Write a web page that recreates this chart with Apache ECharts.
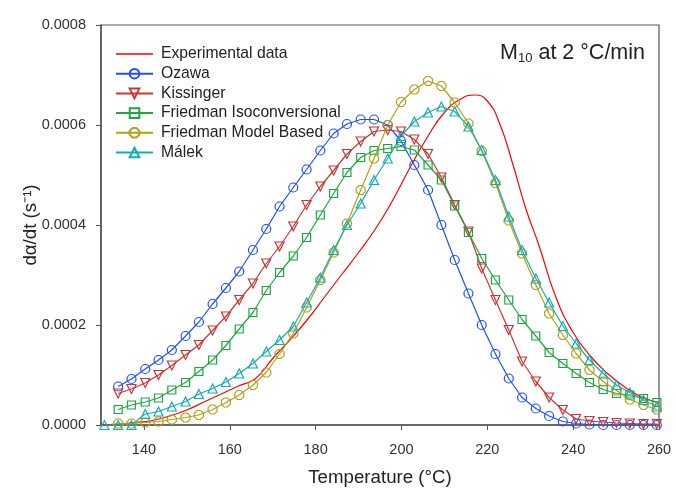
<!DOCTYPE html>
<html>
<head>
<meta charset="utf-8">
<script src="https://cdn.jsdelivr.net/npm/echarts@6/dist/echarts.min.js"></script>
<style>
html,body{margin:0;padding:0;background:#fff;}
#chart{width:676px;height:494px;}
</style>
</head>
<body>
<div id="chart"></div>
<script>
// Temperatures of the model markers (°C)
const temps = [130.8, 134.0, 137.1, 140.3, 143.4, 146.5, 149.7, 152.8, 156.0, 159.1, 162.2, 165.4, 168.5, 171.6, 174.8, 177.9, 181.1, 184.2, 187.3, 190.5, 193.6, 196.8, 199.9, 203.0, 206.2, 209.3, 212.4, 215.6, 218.7, 221.9, 225.0, 228.1, 231.3, 234.4, 237.6, 240.7, 243.8, 247.0, 250.1, 253.2, 256.4, 259.5];

const ozawa = [null, 0.000077, 0.000092, 0.000112, 0.000130, 0.000150, 0.000178, 0.000206, 0.000242, 0.000274, 0.000307, 0.000350, 0.000392, 0.000437, 0.000475, 0.000511, 0.000549, 0.000583, 0.000602, 0.000611, 0.000611, 0.000600, 0.000568, 0.000520, 0.000470, 0.000400, 0.000330, 0.000263, 0.000200, 0.000142, 0.000093, 0.000055, 0.000033, 0.000018, 0.000007, 0.000003, 0.000001, 0, 0, 0, 0, 0];

const kissinger = [null, 0.000063, 0.000072, 0.000084, 0.000100, 0.000119, 0.000140, 0.000160, 0.000189, 0.000217, 0.000250, 0.000283, 0.000323, 0.000357, 0.000397, 0.000440, 0.000477, 0.000509, 0.000542, 0.000567, 0.000587, 0.000590, 0.000587, 0.000571, 0.000542, 0.000495, 0.000440, 0.000387, 0.000313, 0.000250, 0.000190, 0.000127, 0.000087, 0.000055, 0.000030, 0.000012, 0.000008, 0.000006, 0.000004, 0.000003, 0.000002, 0.000002];

const friedmanIso = [null, 0.000031, 0.000040, 0.000046, 0.000054, 0.000070, 0.000085, 0.000107, 0.000130, 0.000159, 0.000192, 0.000225, 0.000269, 0.000305, 0.000338, 0.000375, 0.000420, 0.000463, 0.000505, 0.000535, 0.000549, 0.000553, 0.000557, 0.000550, 0.000520, 0.000490, 0.000438, 0.000385, 0.000333, 0.000290, 0.000250, 0.000211, 0.000178, 0.000145, 0.000123, 0.000103, 0.000085, 0.000071, 0.000063, 0.000060, 0.000053, 0.000045];

const friedmanModel = [null, 0.000003, 0.000003, 0.000005, 0.000007, 0.000011, 0.000015, 0.000020, 0.000031, 0.000045, 0.000060, 0.000080, 0.000105, 0.000142, 0.000183, 0.000235, 0.000290, 0.000345, 0.000403, 0.000470, 0.000533, 0.000600, 0.000646, 0.000671, 0.000688, 0.000678, 0.000645, 0.000603, 0.000548, 0.000484, 0.000409, 0.000343, 0.000280, 0.000223, 0.000180, 0.000143, 0.000110, 0.000087, 0.000069, 0.000051, 0.000040, 0.000031];

const malek = [0, 0, 0, 0.000022, 0.000027, 0.000037, 0.000047, 0.000062, 0.000073, 0.000086, 0.000103, 0.000123, 0.000147, 0.000170, 0.000197, 0.000245, 0.000295, 0.000350, 0.000400, 0.000443, 0.000490, 0.000533, 0.000578, 0.000607, 0.000625, 0.000637, 0.000627, 0.000597, 0.000550, 0.000490, 0.000417, 0.000350, 0.000293, 0.000245, 0.000198, 0.000163, 0.000130, 0.000103, 0.000080, 0.000065, 0.000050, 0.000037];

// Experimental curve
const expT = [130, 134, 138, 142, 146, 150, 154, 158, 162, 166, 170, 174, 178, 182, 186, 190, 194, 198, 202, 206, 210, 214, 217, 220, 223, 226, 229, 232, 236, 240, 244, 248, 252, 256, 260];
const expV = [0, 0.000002, 0.000005, 0.000009, 0.000018, 0.000030, 0.000046, 0.000062, 0.000078, 0.000093, 0.000133, 0.000170, 0.000210, 0.000255, 0.000300, 0.000345, 0.000393, 0.000450, 0.000515, 0.000575, 0.000625, 0.000653, 0.000660, 0.000648, 0.000600, 0.000520, 0.000432, 0.000360, 0.000255, 0.000185, 0.000138, 0.000103, 0.000076, 0.000056, 0.000045];

const xTicks = [140, 160, 180, 200, 220, 240, 260];
const seriesNames = ['Experimental data', 'Ozawa', 'Kissinger', 'Friedman Isoconversional', 'Friedman Model Based', 'Málek'];

function pairs(xs, ys) {
  const out = [];
  for (let i = 0; i < xs.length; i++) if (ys[i] !== null) out.push([xs[i], ys[i]]);
  return out;
}

const FONT = "'Liberation Sans', Arial, sans-serif";
const octagon = 'path://M3,0 L7,0 L10,3 L10,7 L7,10 L3,10 L0,7 L0,3 Z';
const lineIcon = 'path://M0,0 L38,0 L38,1.3 L0,1.3 Z';

function markerSeries(name, ys, color, symbol, size, rotate) {
  return {
    name: name, type: 'line', data: pairs(temps, ys),
    symbol: symbol, symbolSize: size, symbolRotate: rotate || 0,
    lineStyle: {color: color, width: 1.2},
    itemStyle: {color: 'rgba(255,255,255,0)', borderColor: color, borderWidth: 1.2},
    emphasis: {disabled: true}, animation: false
  };
}

const chart = echarts.init(document.getElementById('chart'));
chart.setOption({
  animation: false,
  backgroundColor: '#fff',
  title: {
    text: 'M{s|10} at 2 °C/min',
    right: 26, top: 36,
    textStyle: {
      fontFamily: FONT, fontSize: 21.5, fontWeight: 'normal', color: '#222',
      rich: {s: {fontFamily: FONT, fontSize: 13, color: '#222', padding: [11, 0, 0, 0]}}
    }
  },
  legend: {
    orient: 'vertical', left: 110, top: 41,
    itemWidth: 37, itemHeight: 12, itemGap: 3.7,
    data: [{name: seriesNames[0], icon: lineIcon}].concat(seriesNames.slice(1)),
    textStyle: {fontFamily: FONT, fontSize: 15.7, color: '#222', padding: [0, 0, 0, 3]}
  },
  grid: {left: 101, right: 17, top: 25, bottom: 69, show: true, borderColor: '#555', borderWidth: 1.2},
  xAxis: {
    type: 'value', min: 130, max: 260,
    name: 'Temperature (°C)', nameLocation: 'middle', nameGap: 43,
    nameTextStyle: {fontFamily: FONT, fontSize: 18.7, color: '#222'},
    axisLine: {show: true, lineStyle: {color: '#555', width: 1.5}},
    axisTick: {show: true, inside: false, length: 5, customValues: xTicks, lineStyle: {color: '#555'}},
    axisLabel: {customValues: xTicks, fontFamily: FONT, fontSize: 14.5, color: '#333', margin: 17},
    splitLine: {show: false}
  },
  yAxis: {
    type: 'value', min: 0, max: 0.0008, interval: 0.0002,
    name: 'dα/dt (s⁻¹)', nameLocation: 'middle', nameGap: 61, nameMoveOverlap: false,
    nameTextStyle: {fontFamily: FONT, fontSize: 18.7, color: '#222'},
    axisLine: {show: true, lineStyle: {color: '#555', width: 1.5}},
    axisTick: {show: true, inside: false, length: 5, lineStyle: {color: '#555'}},
    axisLabel: {fontFamily: FONT, fontSize: 14.5, color: '#333', margin: 15, formatter: v => v.toFixed(4)},
    splitLine: {show: false}
  },
  series: [
    {name: 'Experimental data', type: 'line', data: pairs(expT, expV), smooth: true, symbol: 'none',
     lineStyle: {color: '#ff0000', width: 1.2}, itemStyle: {color: '#ff0000'}, z: 3},
    markerSeries('Ozawa', ozawa, '#1f4fff', 'circle', 9),
    markerSeries('Kissinger', kissinger, '#c83737', 'triangle', 9, 180),
    markerSeries('Friedman Isoconversional', friedmanIso, '#1ea640', 'rect', 8),
    markerSeries('Friedman Model Based', friedmanModel, '#b3a11b', octagon, 9),
    markerSeries('Málek', malek, '#14adb0', 'triangle', 9)
  ]
});
</script>
</body>
</html>
